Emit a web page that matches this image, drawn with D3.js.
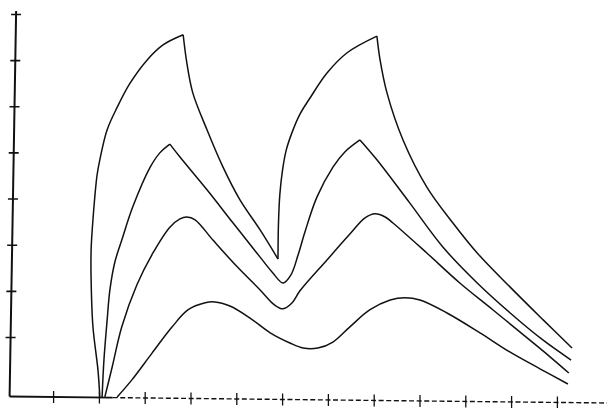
<!DOCTYPE html>
<html>
<head>
<meta charset="utf-8">
<script src="https://cdn.jsdelivr.net/npm/d3@7"></script>
<style>
  body { margin: 0; background: #fff; }
</style>
</head>
<body>
<svg id="chart" width="607" height="408"></svg>
<script>
// tick positions (no labels on the original figure)
const xTicks = [1, 2, 3, 4, 5, 6, 7, 8, 9, 10, 11, 12];
const yTicks = [1, 2, 3, 4, 5, 6, 7, 8];

// the four response curves, [x, y] in axis units
const curveA = [
  [2.02, -0.30], [1.98, 0.28], [1.87, 1.22], [1.83, 2.24], [1.83, 2.89], [1.87, 3.54],
  [1.96, 4.51], [2.02, 4.84], [2.18, 5.49], [2.40, 5.98], [2.68, 6.50], [3.05, 7.00],
  [3.40, 7.33], [3.84, 7.55], [3.92, 6.94], [4.05, 6.29], [4.36, 5.49], [4.71, 4.68],
  [5.08, 3.97], [5.52, 3.32], [5.91, 2.69], [5.92, 3.43], [5.95, 4.08], [6.01, 4.62],
  [6.09, 5.05], [6.22, 5.44], [6.39, 5.83], [6.61, 6.18], [6.98, 6.72], [7.42, 7.16],
  [8.07, 7.52], [8.14, 7.00], [8.29, 6.29], [8.64, 5.27], [9.16, 4.25], [9.73, 3.47],
  [10.26, 2.82], [10.98, 2.08], [11.70, 1.37], [12.33, 0.76]
];
const cuspsA = [13, 20, 30];

const curveB = [
  [2.07, -0.30], [2.11, 0.50], [2.18, 1.37], [2.24, 2.02], [2.35, 2.63], [2.50, 3.10],
  [2.74, 3.82], [3.12, 4.68], [3.33, 4.99], [3.55, 5.18], [3.77, 4.90], [4.36, 4.19],
  [4.93, 3.47], [5.52, 2.73], [5.78, 2.41], [6.02, 2.17], [6.19, 2.34], [6.35, 2.78],
  [6.50, 3.28], [6.76, 4.03], [7.11, 4.68], [7.37, 5.01], [7.70, 5.27], [8.07, 4.84],
  [8.79, 3.90], [9.51, 2.95], [10.26, 2.17], [10.98, 1.52], [11.70, 0.93], [12.31, 0.50]
];
const cuspsB = [9, 22];

const curveC = [
  [2.13, -0.30], [2.29, 0.35], [2.50, 1.22], [2.83, 2.13], [3.18, 2.82], [3.55, 3.38],
  [3.77, 3.56], [3.92, 3.60], [4.10, 3.54], [4.49, 3.10], [5.02, 2.52], [5.52, 2.02],
  [5.84, 1.69], [6.02, 1.61], [6.22, 1.74], [6.39, 2.00], [6.98, 2.67], [7.48, 3.23],
  [7.81, 3.58], [8.03, 3.67], [8.25, 3.60], [8.42, 3.47], [9.16, 2.82], [9.88, 2.17],
  [10.60, 1.59], [11.35, 0.98], [11.85, 0.57], [12.26, 0.22]
];
const cuspsC = [];

const curveD = [
  [2.40, -0.30], [2.72, 0.07], [3.16, 0.65], [3.60, 1.22], [3.95, 1.59], [4.32, 1.74],
  [4.53, 1.76], [4.86, 1.67], [5.30, 1.41], [5.74, 1.09], [6.17, 0.87], [6.46, 0.76],
  [6.78, 0.76], [7.11, 0.89], [7.48, 1.22], [7.92, 1.59], [8.36, 1.80], [8.68, 1.85],
  [9.01, 1.80], [9.60, 1.52], [10.32, 1.09], [10.98, 0.67], [11.63, 0.31], [12.24, -0.02]
];
const cuspsD = [];

const baseline = -0.29;   // where the x axis crosses
const yAxisAt = 0.05;     // where the y axis stands
const dashFrom = 2.3;     // x axis turns dashed here

const svg = d3.select("svg#chart");
const width = +svg.attr("width");

const x = d3.scaleLinear([0, 13], [7.3, 602.7]);
const y = d3.scaleLinear([0, 8], [383.1, 14]);

// the scan is slightly skewed: y axis leans right, x axis drops to the right
const yLean = -0.01697;
const xDrop = 0.0109;
const y0px = y(baseline);
const x0px = x(yAxisAt);

const yAxisG = svg.append("g")
  .attr("transform", `translate(${x0px - yLean * y0px},0) skewX(${Math.atan(yLean) * 180 / Math.PI})`);

yAxisG.append("g")
  .attr("transform", "translate(5,0)")
  .call(d3.axisLeft(y).tickValues(yTicks).tickSize(10).tickFormat(""))
  .call(g => g.select(".domain").remove())
  .selectAll("line")
  .attr("stroke", "#111")
  .attr("stroke-width", 1.6);

yAxisG.append("line")
  .attr("x1", 0).attr("x2", 0)
  .attr("y1", y0px).attr("y2", y(8) - 3)
  .attr("stroke", "#111")
  .attr("stroke-width", 2);

const xAxisG = svg.append("g")
  .attr("transform", `translate(0,${y0px - xDrop * x0px}) skewY(${Math.atan(xDrop) * 180 / Math.PI})`);

xAxisG.append("g")
  .attr("transform", "translate(0,-6)")
  .call(d3.axisBottom(x).tickValues(xTicks).tickSize(12).tickFormat(""))
  .call(g => g.select(".domain").remove())
  .selectAll("line")
  .attr("stroke", "#111")
  .attr("stroke-width", 1.3);

xAxisG.append("line")
  .attr("x1", x0px).attr("x2", x(dashFrom))
  .attr("y1", 0).attr("y2", 0)
  .attr("stroke", "#111")
  .attr("stroke-width", 1.8);

xAxisG.append("line")
  .attr("x1", x(dashFrom)).attr("x2", width)
  .attr("y1", 0).attr("y2", 0)
  .attr("stroke", "#111")
  .attr("stroke-width", 1.4)
  .attr("stroke-dasharray", "5,2.6");

// split a curve at its sharp corners so each piece is smoothed separately
function pieces(points, cusps) {
  const out = [];
  let start = 0;
  cusps.forEach(c => {
    out.push(points.slice(start, c + 1));
    start = c;
  });
  out.push(points.slice(start));
  return out;
}

const line = d3.line()
  .x(d => x(d[0]))
  .y(d => y(d[1]))
  .curve(d3.curveCatmullRom.alpha(0.5));

const curves = [
  pieces(curveA, cuspsA),
  pieces(curveB, cuspsB),
  pieces(curveC, cuspsC),
  pieces(curveD, cuspsD)
].flat();

svg.append("g")
  .selectAll("path.curve")
  .data(curves)
  .join("path")
  .attr("class", "curve")
  .attr("d", line)
  .attr("fill", "none")
  .attr("stroke", "#111")
  .attr("stroke-width", 1.5)
  .attr("stroke-linejoin", "miter");
</script>
</body>
</html>
